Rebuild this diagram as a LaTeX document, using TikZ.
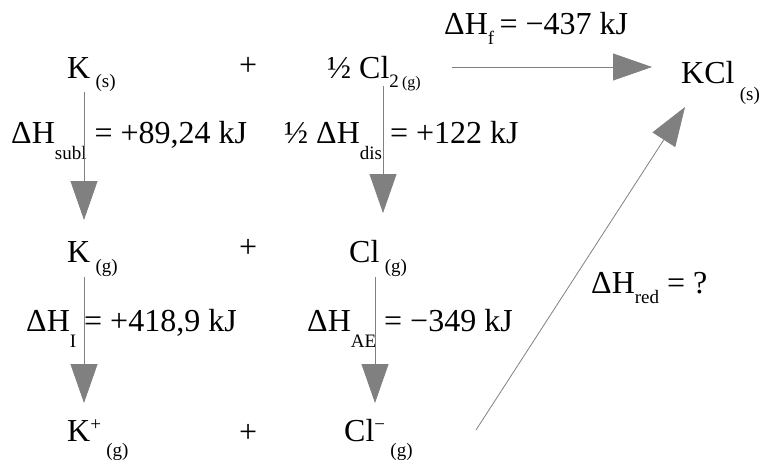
\documentclass[tikz,border=0pt]{standalone}
\usepackage{fontspec}
\setmainfont{Liberation Serif}
\usetikzlibrary{arrows.meta}
\definecolor{ln}{HTML}{808080}
\newcommand\lsub[2]{\raisebox{-#1pt}{\fontsize{19}{19}\selectfont #2}}
\newcommand\lsup[2]{\raisebox{#1pt}{\fontsize{19}{19}\selectfont #2}}
\begin{document}
\begin{tikzpicture}[x=1pt,y=-1pt,
  txt/.style={anchor=base west,inner sep=0pt,font=\fontsize{32}{38}\selectfont},
  arr/.style={draw=ln,line width=0.8pt,-{Triangle[length=39pt,width=27pt,fill=ln]}}]
\useasboundingbox (0,0) rectangle (762,459);
% species
\node[txt] (ks) at (67,78) {K\,\lsub{9}{(s)}};
\node[txt] (p1) at (239,75) {+};
\node[txt] (cl2) at (327,78) {½ Cl\lsub{9}{2\,{\fontsize{16}{16}\selectfont(g)}}};
\node[txt] (kcl) at (681,83) {KCl\,\lsub{17}{(s)}};
\node[txt] (kg) at (67,262) {K\,\lsub{10}{(g)}};
\node[txt] (p2) at (239,257) {+};
\node[txt] (clg) at (349,262) {Cl\,\lsub{10}{(g)}};
\node[txt] (kp) at (67,441) {K\lsup{11}{+}\,\lsub{15}{(g)}};
\node[txt] (p3) at (239,442) {+};
\node[txt] (clm) at (344,441) {Cl\lsup{11}{−}\,\lsub{15}{(g)}};
% enthalpy labels
\node[txt] (hf) at (444,34) {ΔH\lsub{10}{f}\,= −437 kJ};
\node[txt] (hsubl) at (11,143) {ΔH\lsub{16}{subl} = +89,24 kJ};
\node[txt] (hdis) at (284,143) {½ ΔH\lsub{16}{dis} = +122 kJ};
\node[txt] (hi) at (26,331) {ΔH\lsub{16}{I} = +418,9 kJ};
\node[txt] (hae) at (307,331) {ΔH\lsub{16}{AE} = −349 kJ};
\node[txt] (hred) at (591,293) {ΔH\lsub{10}{red} = ?};
% arrow end points
\coordinate (h1) at (452,67); \coordinate (h2) at (652,67);
\coordinate (v1a) at (84,92); \coordinate (v1b) at (84,220);
\coordinate (v2a) at (383,86); \coordinate (v2b) at (383,213);
\coordinate (v3a) at (84,277); \coordinate (v3b) at (84,403);
\coordinate (v4a) at (375,277); \coordinate (v4b) at (375,403);
\coordinate (d1) at (476,430); \coordinate (d2) at (685,107);
\draw[arr] (h1) -- (h2);
\draw[arr] (v1a) -- (v1b);
\draw[arr] (v2a) -- (v2b);
\draw[arr] (v3a) -- (v3b);
\draw[arr] (v4a) -- (v4b);
\draw[arr] (d1) -- (d2);
\end{tikzpicture}
\end{document}
